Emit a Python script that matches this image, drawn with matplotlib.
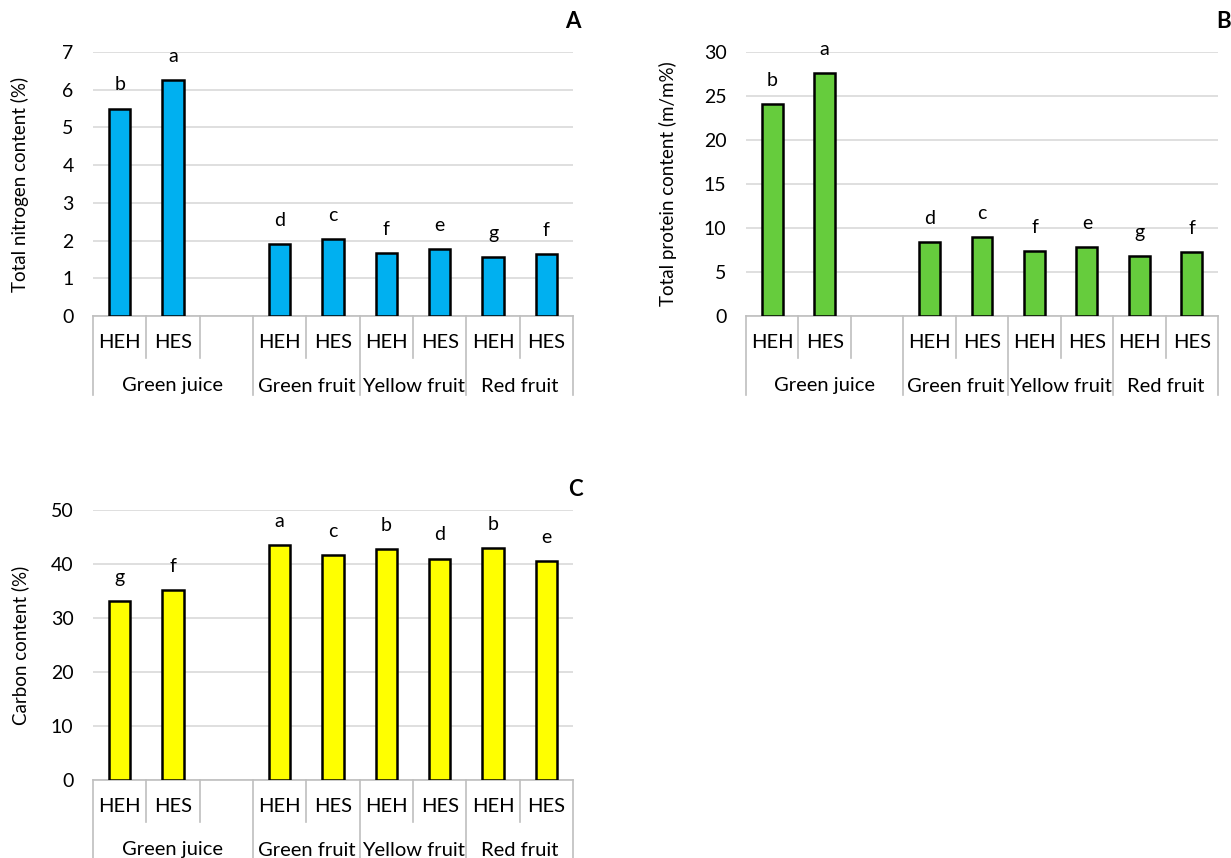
import matplotlib
matplotlib.use('Agg')
import matplotlib.pyplot as plt
from matplotlib.transforms import blended_transform_factory

plt.rcParams['font.family'] = ['Lato', 'DejaVu Sans']

slot_labels = ['HEH', 'HES', '', 'HEH', 'HES', 'HEH', 'HES', 'HEH', 'HES']
groups = ['Green juice', 'Green fruit', 'Yellow fruit', 'Red fruit']
group_sizes = [3, 2, 2, 2]

nitrogen = [5.5, 6.25, 1.9, 2.05, 1.67, 1.78, 1.57, 1.65]
nitrogen_letters = ['b', 'a', 'd', 'c', 'f', 'e', 'g', 'f']
protein = [24.1, 27.6, 8.4, 9.0, 7.35, 7.85, 6.85, 7.25]
protein_letters = ['b', 'a', 'd', 'c', 'f', 'e', 'g', 'f']
carbon = [33.2, 35.1, 43.5, 41.7, 42.8, 41.0, 42.9, 40.6]
carbon_letters = ['g', 'f', 'a', 'c', 'b', 'd', 'b', 'e']

W, H = 1231, 858
fig = plt.figure(figsize=(W / 100, H / 100), dpi=100)

grid_col = '#d9d9d9'
line_col = '#bfbfbf'


def panel(rect_px, values, letters, ymax, ystep, color, ylabel, tag, tag_xy, label_x):
    left, right, top, bottom = rect_px
    ax = fig.add_axes([left / W, 1 - bottom / H, (right - left) / W, (bottom - top) / H])
    ax_h = bottom - top
    pos = [i + 0.5 for i, s in enumerate(slot_labels) if s]
    ax.bar(pos, values, width=0.4, color=color, edgecolor='black', linewidth=1.8, zorder=3)
    for x, v, l in zip(pos, values, letters):
        ax.annotate(l, (x, v), xytext=(0, 17), textcoords='offset points',
                    ha='center', va='center', fontsize=14)
    ax.set_xlim(0, len(slot_labels))
    ax.set_ylim(0, ymax)
    ax.set_yticks(range(0, ymax + 1, ystep))
    ax.yaxis.grid(True, color=grid_col, linewidth=1.2, zorder=0)
    ax.set_axisbelow(True)
    for s in ['top', 'right', 'left']:
        ax.spines[s].set_visible(False)
    ax.spines['bottom'].set_color(line_col)
    ax.spines['bottom'].set_linewidth(1.2)
    ax.tick_params(axis='y', length=0, pad=14, labelsize=14)
    ax.tick_params(axis='x', length=0)
    ax.set_xticks([])

    tr = blended_transform_factory(ax.transData, ax.transAxes)
    short = 42 / ax_h
    long_ = 79 / ax_h
    # slot labels
    for i, s in enumerate(slot_labels):
        if s:
            ax.text(i + 0.5, -27 / ax_h, s, transform=tr, ha='center', va='center', fontsize=14.5)
    # group labels and separators
    edges = [0]
    for g in group_sizes:
        edges.append(edges[-1] + g)
    for g, a, b in zip(groups, edges[:-1], edges[1:]):
        ax.text((a + b) / 2, -70 / ax_h, g, transform=tr, ha='center', va='center', fontsize=14.5)
    for i in range(len(slot_labels) + 1):
        depth = long_ if i in edges else short
        ax.plot([i, i], [0, -depth], transform=tr, color=line_col, linewidth=1.2, clip_on=False)

    fig.text(label_x / W, 1 - (top + bottom) / 2 / H, ylabel, rotation=90,
             ha='center', va='center', fontsize=13.5)
    fig.text(tag_xy[0] / W, 1 - tag_xy[1] / H, tag,
             ha='right', va='center', fontsize=16, fontweight='bold')
    return ax


panel((93, 573, 52, 316), nitrogen, nitrogen_letters, 7, 1, '#00b0f0',
      'Total nitrogen content (%)', 'A', (581, 22), 20)
panel((746, 1218, 52, 316), protein, protein_letters, 30, 5, '#66cc3d',
      'Total protein content (m/m%)', 'B', (1231, 22), 668)
panel((93, 573, 510, 780), carbon, carbon_letters, 50, 10, '#ffff00',
      'Carbon content (%)', 'C', (583, 490), 20)

fig.savefig('out.png', dpi=100)
